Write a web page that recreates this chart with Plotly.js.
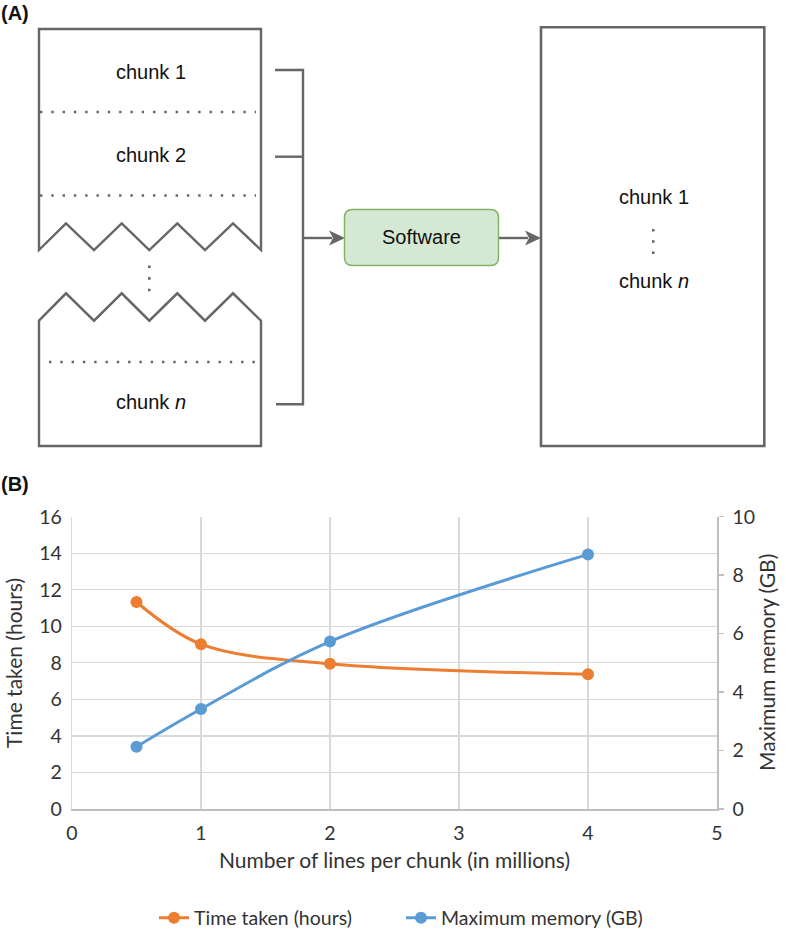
<!DOCTYPE html>
<html>
<head>
<meta charset="utf-8">
<script src="https://cdn.plot.ly/plotly-3.0.1.min.js"></script>
<style>html,body{margin:0;padding:0;background:#fff;}#chart{width:786px;height:931px;}</style>
</head>
<body>
<div id="chart"></div>
<script>
// ---- Data (panel B) ----
const chunkSizesMillions = [0.5, 1, 2, 4];
const timeTakenHours = [11.33, 9.02, 7.95, 7.38];
const maxMemoryGB = [2.13, 3.42, 5.73, 8.71];
const seriesNames = ["Time taken (hours)", "Maximum memory (GB)"];
const xTickVals = [0, 1, 2, 3, 4, 5];
const yLeftTickVals = [0, 2, 4, 6, 8, 10, 12, 14, 16];
const yRightTickVals = [0, 2, 4, 6, 8, 10];
const diagramLabels = ["chunk 1", "chunk 2", "chunk <i>n</i>", "Software"];

// ---- Layout helpers (pixel -> paper) ----
const W = 786, H = 931;
const X = x => x / W;
const Y = y => 1 - y / H;
const P = (pts, close) => pts.map((p, i) => (i ? "L" : "M") + X(p[0]) + "," + Y(p[1])).join(" ") + (close ? " Z" : "");

const gray = "#666666";
const diagFont = {family: "Arial, 'Liberation Sans', sans-serif", size: 20, color: "#111"};
const chartFont = "Lato, 'Open Sans', sans-serif";
const txtColor = "#333333";

const shapes = [];
const line = (x0, y0, x1, y1, extra) => shapes.push(Object.assign({
  type: "line", xref: "paper", yref: "paper",
  x0: X(x0), y0: Y(y0), x1: X(x1), y1: Y(y1),
  line: {color: gray, width: 2.4}
}, extra || {}));

// Upper torn box
shapes.push({type: "path", xref: "paper", yref: "paper", line: {color: gray, width: 2.4},
  path: P([[39,250],[39,29],[261,29],[261,250],[233,223.3],[205,250],[177.3,223.3],[149.3,250],[121.7,223.3],[94,250],[66,223.3]], true)});
// Lower torn box
shapes.push({type: "path", xref: "paper", yref: "paper", line: {color: gray, width: 2.4},
  path: P([[39,320.7],[66,293.3],[94,320.7],[121.7,293.3],[149.3,320.7],[177.3,293.3],[205,320.7],[233,293.3],[261,320.7],[261,446],[39,446]], true)});
// Dotted separators
const dotLine = {color: gray, width: 2.4, dash: "2.4px,8.9px"};
line(40, 112, 256, 112, {line: dotLine});
line(40, 195.5, 256, 195.5, {line: dotLine});
line(49, 362, 255, 362, {line: dotLine});
line(149.3, 265.5, 149.3, 292, {line: {color: gray, width: 2.6, dash: "2.6px,9px"}});
// Bracket
shapes.push({type: "path", xref: "paper", yref: "paper", line: {color: gray, width: 2.4},
  path: P([[275,70],[303,70],[303,404.3],[276,404.3]], false)});
line(275, 156.7, 303, 156.7);
// Arrow 1
line(303, 238, 332, 238);
shapes.push({type: "path", xref: "paper", yref: "paper", line: {width: 0}, fillcolor: gray,
  path: P([[329,230.5],[345,238],[329,245.5],[333,238]], true)});
// Arrow 2
line(498.5, 238, 528, 238);
shapes.push({type: "path", xref: "paper", yref: "paper", line: {width: 0}, fillcolor: gray,
  path: P([[525,230.5],[541,238],[525,245.5],[529,238]], true)});
// Software box (rounded)
(function () {
  const x0 = 344.5, x1 = 498.5, y0 = 209.5, y1 = 265.5, r = 8;
  const path = "M" + X(x0 + r) + "," + Y(y0) +
    " L" + X(x1 - r) + "," + Y(y0) + " Q" + X(x1) + "," + Y(y0) + " " + X(x1) + "," + Y(y0 + r) +
    " L" + X(x1) + "," + Y(y1 - r) + " Q" + X(x1) + "," + Y(y1) + " " + X(x1 - r) + "," + Y(y1) +
    " L" + X(x0 + r) + "," + Y(y1) + " Q" + X(x0) + "," + Y(y1) + " " + X(x0) + "," + Y(y1 - r) +
    " L" + X(x0) + "," + Y(y0 + r) + " Q" + X(x0) + "," + Y(y0) + " " + X(x0 + r) + "," + Y(y0) + " Z";
  shapes.push({type: "path", xref: "paper", yref: "paper", path: path, fillcolor: "#d5e8d4", line: {color: "#82b366", width: 1.5}});
})();
// Right output box
shapes.push({type: "rect", xref: "paper", yref: "paper", x0: X(541), x1: X(764.3), y0: Y(27.3), y1: Y(446), line: {color: gray, width: 2.6}});
// Vertical dots inside right box
line(653.3, 229, 653.3, 254, {line: {color: gray, width: 2.6, dash: "2.6px,8.6px"}});

const ann = (x, y, text, font, extra) => Object.assign({
  xref: "paper", yref: "paper", x: X(x), y: Y(y), text: text, showarrow: false,
  xanchor: "center", yanchor: "middle", font: font
}, extra || {});

const annotations = [
  ann(-1, 13, "<b>(A)</b>", {family: diagFont.family, size: 20, color: "#111"}, {xanchor: "left"}),
  ann(-1, 484, "<b>(B)</b>", {family: diagFont.family, size: 20, color: "#111"}, {xanchor: "left"}),
  ann(151, 72, diagramLabels[0], diagFont),
  ann(151, 155, diagramLabels[1], diagFont),
  ann(151, 401.5, diagramLabels[2], diagFont),
  ann(421.5, 237.5, diagramLabels[3], diagFont),
  ann(654, 196.7, diagramLabels[0], diagFont),
  ann(654, 281, diagramLabels[2], diagFont),
  // axis titles
  ann(13, 663, seriesNames[0], {family: chartFont, size: 21, color: txtColor}, {textangle: -90}),
  ann(766, 663, seriesNames[1], {family: chartFont, size: 21, color: txtColor}, {textangle: -90}),
  ann(394.5, 859, "Number of lines per chunk (in millions)", {family: chartFont, size: 21, color: txtColor})
];

const traces = [
  {x: chunkSizesMillions, y: timeTakenHours, name: seriesNames[0], type: "scatter", mode: "lines+markers",
   line: {color: "#ED7D31", width: 3, shape: "spline", smoothing: 1}, marker: {color: "#ED7D31", size: 12},
   xaxis: "x", yaxis: "y"},
  {x: chunkSizesMillions, y: maxMemoryGB, name: seriesNames[1], type: "scatter", mode: "lines+markers",
   line: {color: "#5B9BD5", width: 3, shape: "spline", smoothing: 1}, marker: {color: "#5B9BD5", size: 12},
   xaxis: "x", yaxis: "y2"}
];

const layout = {
  width: W, height: H,
  margin: {l: 0, r: 0, t: 0, b: 0, autoexpand: false},
  paper_bgcolor: "#fff", plot_bgcolor: "#fff",
  font: {family: chartFont, color: txtColor},
  showlegend: true,
  legend: {orientation: "h", x: X(154), xanchor: "left", y: Y(918), yanchor: "middle",
           entrywidth: 202, entrywidthmode: "pixels",
           font: {family: chartFont, size: 19.5, color: txtColor}, bgcolor: "rgba(0,0,0,0)"},
  xaxis: {domain: [X(72), X(717)], range: [0, 5], tickvals: xTickVals, showgrid: true, gridcolor: "#d9d9d9", gridwidth: 1.3,
          zeroline: false, showline: true, linecolor: "#bfbfbf", linewidth: 1.5, ticks: "", ticklabelstandoff: 6,
          tickfont: {family: chartFont, size: 19.5, color: txtColor}, anchor: "y", fixedrange: true},
  yaxis: {domain: [Y(809), Y(516.7)], range: [0, 16], tickvals: yLeftTickVals, showgrid: true, gridcolor: "#d9d9d9", gridwidth: 1.3,
          zeroline: false, showline: true, linecolor: "#d9d9d9", linewidth: 1.3, ticks: "",
          tickfont: {family: chartFont, size: 19.5, color: txtColor}, anchor: "x", ticklabelstandoff: 5, fixedrange: true},
  yaxis2: {domain: [Y(809), Y(516.7)], range: [0, 10], tickvals: yRightTickVals, overlaying: "y", side: "right", anchor: "x",
           showgrid: false, zeroline: false, showline: true, linecolor: "#bfbfbf", linewidth: 1.5,
           ticks: "outside", ticklen: 5, tickcolor: "#bfbfbf", tickwidth: 1.5, ticklabelstandoff: 5,
           tickfont: {family: chartFont, size: 19.5, color: txtColor}, fixedrange: true},
  shapes: shapes,
  annotations: annotations
};

Plotly.newPlot("chart", traces, layout, {displayModeBar: false, staticPlot: true});
</script>
</body>
</html>
